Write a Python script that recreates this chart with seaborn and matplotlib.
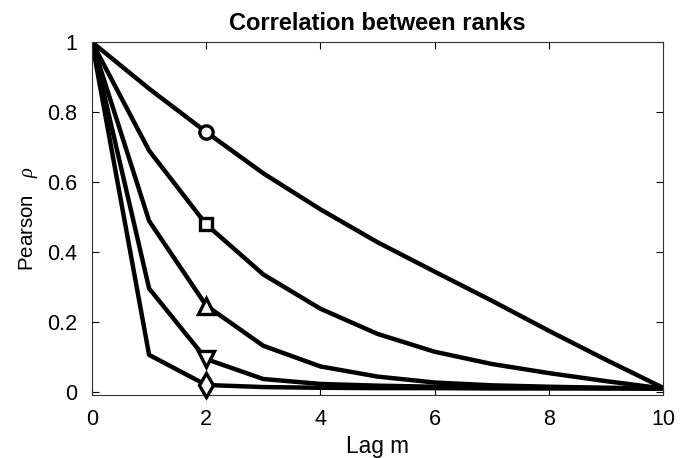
import matplotlib
matplotlib.use("Agg")
import matplotlib.pyplot as plt
import numpy as np
import seaborn as sns

# Lag values and correlation curves
lags = [0, 1, 2, 3, 4, 5, 6, 7, 8, 9, 10]
rho_circle = [1.0, 0.867, 0.743, 0.625, 0.522, 0.428, 0.344, 0.261, 0.175, 0.092, 0.012]
rho_square = [1.0, 0.690, 0.479, 0.336, 0.238, 0.166, 0.115, 0.080, 0.054, 0.031, 0.010]
rho_triangle = [1.0, 0.489, 0.247, 0.132, 0.073, 0.044, 0.027, 0.019, 0.015, 0.012, 0.010]
rho_tridown = [1.0, 0.296, 0.094, 0.037, 0.023, 0.018, 0.015, 0.013, 0.012, 0.011, 0.010]
rho_diamond = [1.0, 0.106, 0.020, 0.014, 0.012, 0.011, 0.011, 0.010, 0.010, 0.010, 0.010]

curves = [rho_circle, rho_square, rho_triangle, rho_tridown, rho_diamond]
markers = ["o", "s", "^", "v", "d"]
marker_sizes = [9.6, 8.2, 11.5, 12, 12]
mark_lag = 2

sns.set_style("ticks")
plt.rcParams["font.family"] = ["Liberation Sans", "DejaVu Sans"]
plt.rcParams["mathtext.fontset"] = "custom"
plt.rcParams["mathtext.it"] = "Liberation Serif:italic"
plt.rcParams["text.color"] = "k"
plt.rcParams["axes.labelcolor"] = "k"

fig = plt.figure(figsize=(6.88, 4.58), dpi=100)
ax = fig.add_axes([0.1337, 0.1376, 0.83, 0.7704])

for vals, m, ms in zip(curves, markers, marker_sizes):
    sns.lineplot(x=lags, y=vals, ax=ax, color="k", linewidth=3.2, zorder=2)
    ax.plot([mark_lag], [vals[lags.index(mark_lag)]], marker=m, markersize=ms,
            markerfacecolor="white", markeredgecolor="k", markeredgewidth=2.4,
            linestyle="none", zorder=3, clip_on=False)

ax.set_xlim(0, 10)
ax.set_ylim(-0.0086, 1)
ax.set_xticks([0, 2, 4, 6, 8, 10])
ax.set_yticks([0, 0.2, 0.4, 0.6, 0.8, 1])
ax.set_xticklabels(["0", "2", "4", "6", "8", "10"])
ax.set_yticklabels(["0", "0.2", "0.4", "0.6", "0.8", "1"])
ax.tick_params(direction="in", length=5, width=0.8, top=True, right=True,
               labelsize=15.5, colors="k")
ax.tick_params(axis="y", pad=10.5)
ax.tick_params(axis="x", pad=10)
for s in ax.spines.values():
    s.set_visible(True)
    s.set_linewidth(0.8)
    s.set_color("#333333")

ax.set_title("Correlation between ranks", fontsize=17, fontweight="bold",
             color="k", pad=8.5)
ax.set_xlabel("Lag m", fontsize=16.3, labelpad=4)
ax.set_ylabel(r"Pearson   $\rho$", fontsize=14.8, labelpad=5)

fig.savefig("out.png", dpi=100)
